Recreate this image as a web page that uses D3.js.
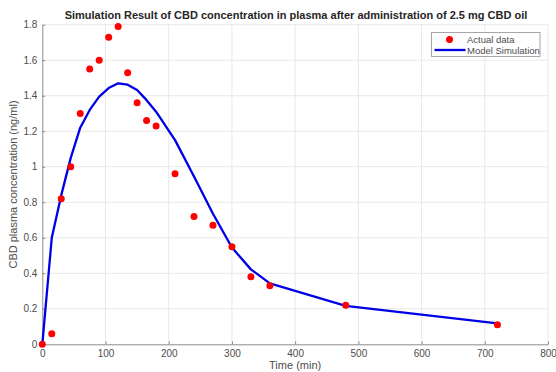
<!DOCTYPE html>
<html>
<head>
<meta charset="utf-8">
<script src="https://cdn.jsdelivr.net/npm/d3@7"></script>
<style>
  body { margin: 0; background: #fff; }
  svg { font-family: "Liberation Sans", Arial, sans-serif; }
  .axis text { fill: #4d4d4d; font-size: 10px; }
  .axis path, .axis line { stroke: #8c8c8c; }
</style>
</head>
<body>
<svg id="chart"></svg>
<script>
// measured time points (min) and CBD plasma concentration (ng/ml)
const timeData = [0, 15, 30, 45, 60, 75, 90, 105, 120, 135, 150, 165, 180, 210, 240, 270, 300, 330, 360, 480, 720];
const actualConc = [0, 0.06, 0.82, 1.0, 1.3, 1.55, 1.6, 1.73, 1.79, 1.53, 1.36, 1.26, 1.23, 0.96, 0.72, 0.67, 0.55, 0.38, 0.33, 0.22, 0.11];
// model simulation, evaluated at the same time points
const modelConc = [0, 0.60, 0.84, 1.05, 1.22, 1.32, 1.395, 1.443, 1.47, 1.462, 1.432, 1.375, 1.31, 1.15, 0.945, 0.735, 0.545, 0.422, 0.343, 0.216, 0.118];
const xTicks = [0, 100, 200, 300, 400, 500, 600, 700, 800];
const yTicks = [0, 0.2, 0.4, 0.6, 0.8, 1, 1.2, 1.4, 1.6, 1.8];

const width = 556;
const height = 372;
const margin = { top: 24.7, right: 8, bottom: 27.7, left: 42.3 };

const svg = d3.select("#chart")
  .attr("width", width)
  .attr("height", height);

const xScale = d3.scaleLinear()
  .domain([0, 800])
  .range([margin.left, width - margin.right]);

const yScale = d3.scaleLinear()
  .domain([0, 1.8])
  .range([height - margin.bottom, margin.top]);

// grid
svg.append("g")
  .selectAll("line")
  .data(xTicks.slice(1))
  .enter()
  .append("line")
  .attr("x1", d => xScale(d)).attr("x2", d => xScale(d))
  .attr("y1", yScale(0)).attr("y2", yScale(1.8))
  .attr("stroke", "#e8e8e8");

svg.append("g")
  .selectAll("line")
  .data(yTicks.slice(1))
  .enter()
  .append("line")
  .attr("x1", xScale(0)).attr("x2", xScale(800))
  .attr("y1", d => yScale(d)).attr("y2", d => yScale(d))
  .attr("stroke", "#e8e8e8");

// axes, ticks inside like MATLAB
const xAxis = d3.axisBottom(xScale).tickValues(xTicks).tickSizeInner(-3).tickSizeOuter(0).tickPadding(6);
const yAxis = d3.axisLeft(yScale).tickValues(yTicks).tickSizeInner(-3).tickSizeOuter(0).tickPadding(5)
  .tickFormat(d3.format("~g"));

svg.append("g")
  .attr("class", "axis")
  .attr("transform", `translate(0, ${yScale(0)})`)
  .call(xAxis);

svg.append("g")
  .attr("class", "axis")
  .attr("transform", `translate(${xScale(0)}, 0)`)
  .call(yAxis);

// model line
const line = d3.line()
  .x((d, i) => xScale(timeData[i]))
  .y(d => yScale(d));

svg.append("path")
  .datum(modelConc)
  .attr("d", line)
  .attr("fill", "none")
  .attr("stroke", "#0000e6")
  .attr("stroke-width", 2.3)
  .attr("stroke-linejoin", "round");

// actual data
svg.selectAll(".dot")
  .data(actualConc)
  .enter()
  .append("circle")
  .attr("class", "dot")
  .attr("cx", (d, i) => xScale(timeData[i]))
  .attr("cy", d => yScale(d))
  .attr("r", 3.5)
  .attr("fill", "#ff0000");

// title + labels
svg.append("text")
  .attr("x", 296)
  .attr("y", 19)
  .attr("text-anchor", "middle")
  .attr("font-size", "11px")
  .attr("font-weight", "bold")
  .attr("fill", "#262626")
  .text("Simulation Result of CBD concentration in plasma after administration of 2.5 mg CBD oil");

svg.append("text")
  .attr("x", xScale(400))
  .attr("y", 369)
  .attr("text-anchor", "middle")
  .attr("font-size", "11px")
  .attr("fill", "#4d4d4d")
  .text("Time (min)");

svg.append("text")
  .attr("transform", `translate(17, ${yScale(0.9)}) rotate(-90)`)
  .attr("text-anchor", "middle")
  .attr("font-size", "11px")
  .attr("fill", "#4d4d4d")
  .text("CBD plasma concentration (ng/ml)");

// legend
const legend = svg.append("g").attr("transform", "translate(431.5, 32.5)");
legend.append("rect")
  .attr("width", 108.5).attr("height", 24)
  .attr("fill", "#fff").attr("stroke", "#a6a6a6");
legend.append("circle")
  .attr("cx", 18).attr("cy", 7).attr("r", 3.5).attr("fill", "#ff0000");
legend.append("line")
  .attr("x1", 3).attr("x2", 34).attr("y1", 17.5).attr("y2", 17.5)
  .attr("stroke", "#0000e6").attr("stroke-width", 2.3);
legend.append("text")
  .attr("x", 35.5).attr("y", 10.5)
  .attr("font-size", "9.5px").attr("fill", "#4d4d4d")
  .text("Actual data");
legend.append("text")
  .attr("x", 35.5).attr("y", 21)
  .attr("font-size", "9.5px").attr("fill", "#4d4d4d")
  .text("Model Simulation");
</script>
</body>
</html>
